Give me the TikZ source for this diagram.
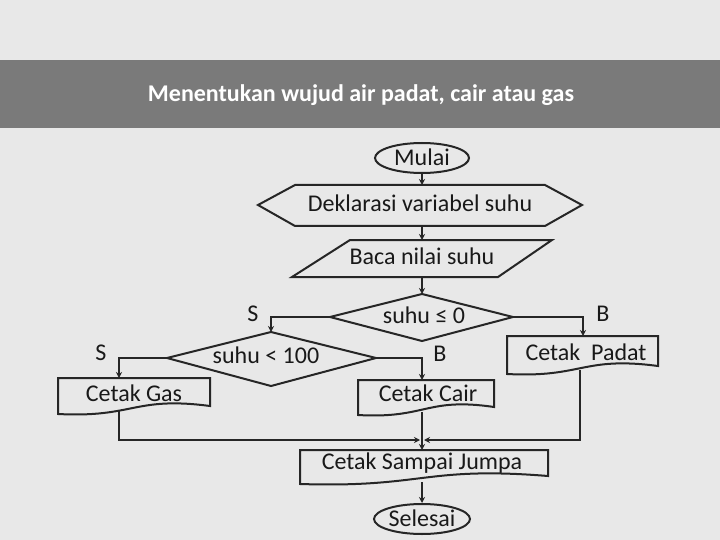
\documentclass[tikz,border=0pt]{standalone}
\usepackage{fontspec}
\setmainfont{Carlito}
\usetikzlibrary{arrows.meta,calc,shapes.geometric}
\begin{document}
\begin{tikzpicture}[x=1pt,y=-1pt,
  ln/.style={line width=2pt,draw=black!85},
  ar/.style={ln,-{Stealth[length=6pt,width=6pt]}},
  txt/.style={font=\fontsize{24}{28}\selectfont,text=black!90},
  lbl/.style={font=\fontsize{24}{28}\selectfont,text=black!90}]
\useasboundingbox (0,0) rectangle (720,540);
\fill[gray!18] (0,0) rectangle (720,540);
\fill[black!52] (0,60) rectangle (720,128);
\node[font=\bfseries\fontsize{24}{28}\selectfont,text=white] (title) at (361,95) {Menentukan wujud air padat, cair atau gas};
% Mulai
\node[ellipse,ln,minimum width=94pt,minimum height=30pt,inner sep=0pt,txt] (mulai) at (422,158) {\raisebox{1.5pt}{Mulai}};
% Deklarasi hexagon
\draw[ln] (258,205)--(295,185)--(545,185)--(582,205)--(545,226)--(295,226)--cycle;
\node[txt] (dek) at (420,203) {Deklarasi variabel suhu};
\coordinate (dekT) at (422,185); \coordinate (dekB) at (422,226);
% Baca parallelogram
\draw[ln] (350,240)--(552,240)--(498,277)--(292,277)--cycle;
\node[txt] (baca) at (422,256) {Baca nilai suhu};
\coordinate (bacaT) at (422,240); \coordinate (bacaB) at (422,277);
% diamond 1
\draw[ln] (330,317)--(422,294)--(513,317)--(422,341)--cycle;
\node[txt] (d1) at (424,315) {suhu ≤ 0};
\coordinate (d1T) at (422,294); \coordinate (d1L) at (330,317); \coordinate (d1R) at (513,317);
% diamond 2
\draw[ln] (167,358)--(271,332)--(376,358)--(271,386)--cycle;
\node[txt] (d2) at (266,355) {suhu < 100};
\coordinate (d2T) at (271,332); \coordinate (d2L) at (167,358); \coordinate (d2R) at (376,358);
% document shapes
\newcommand{\docshape}[4]{%
  \draw[ln] (#1,#2)--(#3,#2)--(#3,#4-4) .. controls ($(#3,#4-4)!0.5!(#1,#4)+(0,-12)$) and ($(#3,#4-4)!0.5!(#1,#4)+(0,10)$) .. (#1,#4+4)--cycle;}
\docshape{58}{378}{210}{410}
\node[txt] (gas) at (134,393) {Cetak Gas};
\coordinate (gasT) at (119,378); \coordinate (gasB) at (119,411);
\docshape{358}{380}{494}{411}
\node[txt] (cair) at (428,393) {Cetak Cair};
\coordinate (cairT) at (422,380); \coordinate (cairB) at (422,412);
\docshape{507}{336}{658}{370}
\node[txt] (padat) at (586,352) {Cetak\ \ Padat};
\coordinate (padatT) at (583,336); \coordinate (padatB) at (580,370);
\docshape{300}{450}{548}{480}
\node[txt] (sj) at (422,463) {Cetak Sampai Jumpa};
\coordinate (sjT) at (422,450); \coordinate (sjB) at (422,482);
% Selesai
\node[ellipse,ln,minimum width=96pt,minimum height=30pt,inner sep=0pt,txt] (sel) at (422,519) {\raisebox{1.5pt}{Selesai}};
% connectors
\draw[ar] (mulai.south) -- (dekT);
\draw[ar] (dekB) -- (bacaT);
\draw[ar] (bacaB) -- (d1T);
\draw[ar] (d1L) -| (d2T);
\draw[ar] (d1R) -| (padatT);
\draw[ar] (d2L) -| (gasT);
\draw[ar] (d2R) -| (cairT);
\coordinate (m) at (422,440);
\draw[ar] (gasB) |- ($(m)+(-2,0)$);
\draw[ar] (padatB) |- ($(m)+(2,0)$);
\draw[ln] (cairB) -- (m);
\draw[ar] (m) -- (sjT);
\draw[ar] (sjB) -- (sel.north);
\node[lbl] (s1) at (253,314) {S};
\node[lbl] (b1) at (603,314) {B};
\node[lbl] (s2) at (101,353) {S};
\node[lbl] (b2) at (440,354) {B};
\end{tikzpicture}
\end{document}
